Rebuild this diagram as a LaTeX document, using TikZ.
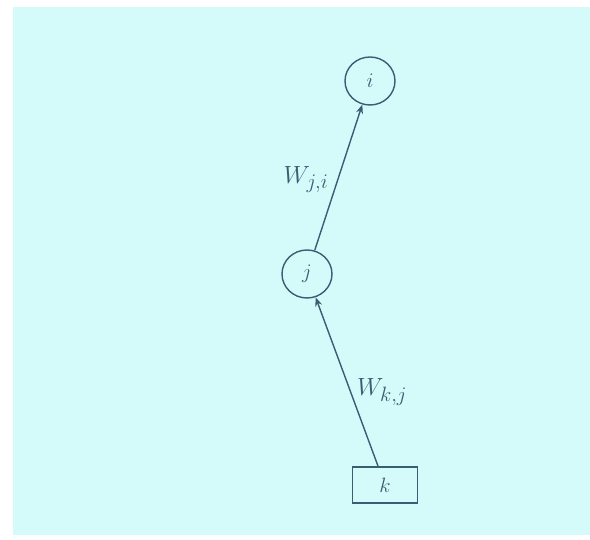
\documentclass[tikz,border=0pt]{standalone}
\usetikzlibrary{arrows.meta,shapes.geometric}
\definecolor{bgcyan}{RGB}{212,250,250}
\definecolor{ink}{RGB}{55,95,115}
\begin{document}
\begin{tikzpicture}[x=1pt,y=-1pt,
  neuron/.style={draw=ink,line width=1.4pt,ellipse,minimum width=50pt,minimum height=48pt,inner sep=0pt,text=ink,font=\fontsize{22}{22}\selectfont\itshape},
  inbox/.style={draw=ink,line width=1.4pt,rectangle,minimum width=65pt,minimum height=36pt,inner sep=0pt,text=ink,font=\fontsize{22}{22}\selectfont\itshape},
  conn/.style={draw=ink,line width=1.4pt,-{Stealth[length=9pt,width=7pt]}},
  wlabel/.style={text=ink,font=\fontsize{28}{28}\selectfont}]
\useasboundingbox (0,0) rectangle (590,540);
\fill[white] (0,0) rectangle (590,540);
\fill[bgcyan] (13,7) rectangle (590,535);
\node[neuron] (i) at (370,81) {$i$};
\node[neuron] (j) at (307,274) {$j$};
\node[inbox] (k) at (385,485) {$k$};
\draw[conn] (k) -- (j);
\draw[conn] (j) -- (i);
\node[wlabel] (wji) at (306,180) {$W_{j,i}$};
\node[wlabel] (wkj) at (382,392) {$W_{k,j}$};
\end{tikzpicture}
\end{document}
